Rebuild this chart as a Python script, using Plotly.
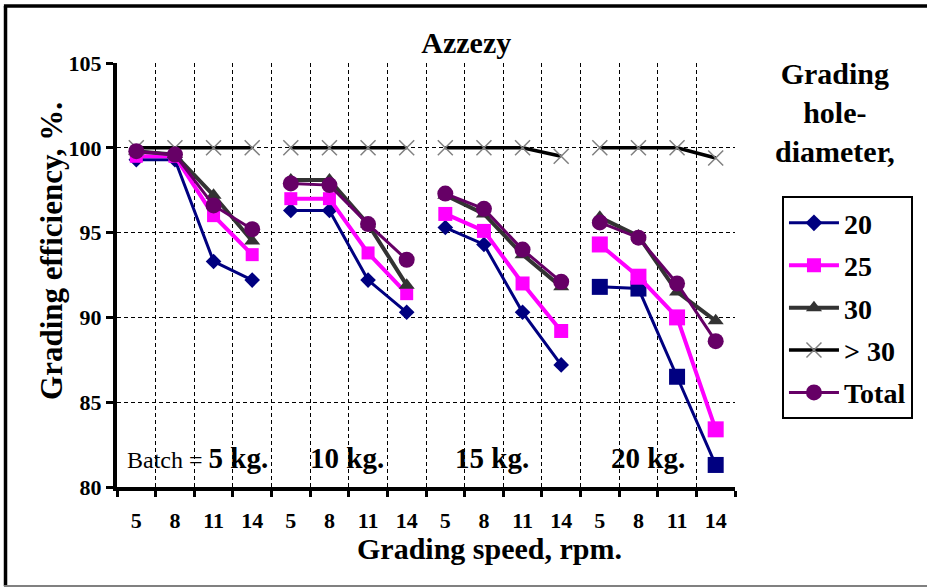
import plotly.graph_objects as go

# ---------------- data ----------------
speeds = [5, 8, 11, 14]
batches = ["5 kg.", "10 kg.", "15 kg.", "20 kg."]
tick_labels = [str(s) for _ in batches for s in speeds]

s20 = [99.3, 99.3, 93.3, 92.2, 96.3, 96.3, 92.2, 90.3, 95.3, 94.3, 90.3, 87.2, 91.8, 91.7, 86.5, 81.3]
s25 = [99.5, 99.5, 96.0, 93.7, 97.0, 97.0, 93.8, 91.4, 96.1, 95.1, 92.0, 89.2, 94.3, 92.4, 90.0, 83.4]
s30 = [99.8, 99.6, 97.2, 94.5, 98.1, 98.1, 95.5, 91.9, 97.2, 96.1, 93.7, 91.8, 95.9, 94.8, 91.5, 89.8]
sgt30 = [100, 100, 100, 100, 100, 100, 100, 100, 100, 100, 100, 99.5, 100, 100, 100, 99.4]
total = [99.8, 99.6, 96.6, 95.2, 97.9, 97.8, 95.5, 93.4, 97.3, 96.4, 94.0, 92.1, 95.6, 94.7, 92.0, 88.6]

series_names = ["20", "25", "30", "> 30", "Total"]
series_values = [s20, s25, s30, sgt30, total]

FONT = "Liberation Serif"
n_sp = len(speeds)
n = len(tick_labels)


def broken(vals):
    """Insert gaps between batch groups so lines do not connect across groups."""
    xs, ys = [], []
    for g in range(len(batches)):
        for k in range(n_sp):
            i = g * n_sp + k
            xs.append(i)
            ys.append(vals[i])
        xs.append(None)
        ys.append(None)
    return xs, ys


def per_point(group_vals):
    out = []
    for g in range(len(batches)):
        out += [group_vals[g]] * (n_sp + 1)
    return out


styles = [
    dict(line=dict(color="#000080", width=3),
         marker=dict(color="#000080", opacity=1, line=dict(width=0),
                     symbol=per_point(["diamond", "diamond", "diamond", "square"]),
                     size=per_point([12, 12, 12, 16]))),
    dict(line=dict(color="#FF00FF", width=4),
         marker=dict(color="#FF00FF", symbol="square", opacity=1, line=dict(width=0),
                     size=per_point([13, 13, 14, 16]))),
    dict(line=dict(color="#333333", width=4),
         marker=dict(color="#333333", symbol="triangle-up", size=14, opacity=1,
                     line=dict(width=0))),
    dict(line=dict(color="#000000", width=3.5),
         marker=dict(color="#808080", symbol="x-thin", size=15, opacity=1,
                     line=dict(color="#808080", width=1.5))),
    dict(line=dict(color="#660066", width=3),
         marker=dict(color="#660066", symbol="circle", size=16, opacity=1,
                     line=dict(width=0))),
]

fig = go.Figure()
for name, vals, st in zip(series_names, series_values, styles):
    xs, ys = broken(vals)
    fig.add_trace(go.Scatter(
        x=xs, y=ys, mode="lines+markers", name=name,
        line=st["line"], marker=st["marker"],
        legendgroup=name, connectgaps=False,
    ))

# dummy trace for boundary axis
fig.add_trace(go.Scatter(x=[-0.5, n - 0.5], y=[None, None], xaxis="x2",
                         showlegend=False, hoverinfo="skip", mode="markers"))

# batch labels inside plot
batch_x = [-0.3, 5.45, 9.2, 13.25]
for g, b in enumerate(batches):
    if g == 0:
        txt = "<span style='font-size:24px;font-weight:normal'>Batch = </span>" + b
        fig.add_annotation(x=batch_x[g], y=81.7, text=txt, showarrow=False,
                           xanchor="left", yanchor="middle",
                           font=dict(family=FONT, size=29, color="black"))
    else:
        fig.add_annotation(x=batch_x[g], y=81.7, text=b, showarrow=False,
                           xanchor="center", yanchor="middle",
                           font=dict(family=FONT, size=29, color="black"))

# axis titles and legend heading
fig.add_annotation(xref="paper", yref="paper", x=-0.105, y=0.557,
                   xanchor="center", yanchor="middle",
                   text="Grading efficiency, %.", textangle=-90, showarrow=False,
                   font=dict(family=FONT, size=31, color="black"))
fig.add_annotation(xref="paper", yref="paper", x=0.602, y=-0.144,
                   xanchor="center", yanchor="middle",
                   text="Grading speed, rpm.", showarrow=False,
                   font=dict(family=FONT, size=30, color="black"))
fig.add_annotation(xref="paper", yref="paper", x=1.162, y=0.884,
                   xanchor="center", yanchor="middle",
                   text="Grading<br>hole-<br>diameter,", showarrow=False,
                   font=dict(family=FONT, size=30, color="black"))

# figure border
fig.add_shape(type="line", xref="paper", yref="paper", x0=-0.183, x1=1.32,
              y0=1.1344, y1=1.1344, line=dict(color="black", width=3.5))
fig.add_shape(type="line", xref="paper", yref="paper", x0=-0.1804, x1=-0.1804,
              y0=1.1344, y1=-0.2335, line=dict(color="black", width=3.5))
fig.add_shape(type="line", xref="paper", yref="paper", x0=-0.183, x1=1.32,
              y0=-0.2335, y1=-0.2335, line=dict(color="#808080", width=2))

GRID_DASH = "4px,3px"
fig.update_layout(
    width=927, height=587,
    margin=dict(l=117, r=192, t=63, b=100, autoexpand=False),
    paper_bgcolor="white", plot_bgcolor="white",
    font=dict(family=FONT, size=20, color="black", weight="bold"),
    title=dict(text="Azzezy", x=0.503, xref="container", y=0.928, yref="container",
               xanchor="center", yanchor="middle",
               font=dict(family=FONT, size=30, color="black")),
    legend=dict(x=1.076, y=0.686, xanchor="left", yanchor="top",
                bordercolor="black", borderwidth=2, bgcolor="white",
                font=dict(family=FONT, size=28, color="black"),
                itemwidth=50, tracegroupgap=3),
    xaxis=dict(range=[-0.5, n - 0.5], tickmode="array",
               tickvals=list(range(n)), ticktext=tick_labels,
               showgrid=False, zeroline=False, showline=False, ticks="",
               ticklabelstandoff=18, automargin=False,
               tickfont=dict(family=FONT, size=22, color="black")),
    xaxis2=dict(range=[-0.5, n - 0.5], overlaying="x", anchor="y", side="bottom",
                tickmode="array", tickvals=[i - 0.5 for i in range(n + 1)],
                ticktext=[""] * (n + 1), showgrid=True, gridcolor="black",
                griddash=GRID_DASH, gridwidth=1, zeroline=False, automargin=False,
                showline=True, linecolor="black", linewidth=4,
                ticks="outside", ticklen=6, tickwidth=3, tickcolor="black"),
    yaxis=dict(range=[80, 105], tickmode="linear", tick0=80, dtick=5,
               showgrid=True, gridcolor="black", griddash=GRID_DASH, gridwidth=1,
               zeroline=False, showline=True, linecolor="black", linewidth=4,
               ticks="outside", ticklen=7, tickwidth=3, tickcolor="black",
               automargin=False,
               tickfont=dict(family=FONT, size=22, color="black")),
)

fig.write_html("out.html", config={"displayModeBar": False},
               post_script="document.body.style.margin='0px';")
